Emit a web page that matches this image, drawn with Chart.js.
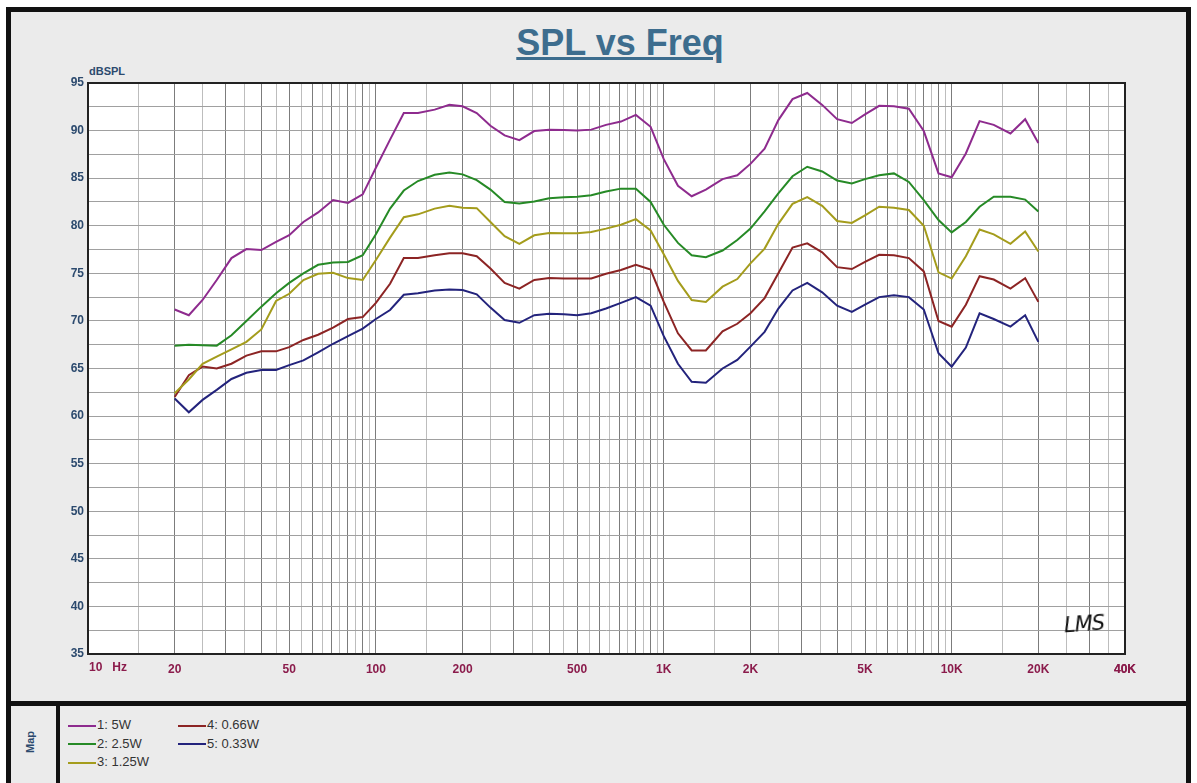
<!DOCTYPE html>
<html>
<head>
<meta charset="utf-8">
<title>SPL vs Freq</title>
<script src="https://cdn.jsdelivr.net/npm/chart.js@4.4.1/dist/chart.umd.min.js"></script>
<style>
  body { margin: 0; background: #fff; }
  #wrap { position: relative; width: 1197px; height: 783px; overflow: hidden; font-family: Arial, "Liberation Sans", sans-serif; }
  #frame { position: absolute; left: 6px; top: 7px; width: 1185px; height: 800px; box-sizing: border-box;
           border: 5px solid #111; background: #ebebeb; }
  #sep { position: absolute; left: 6px; top: 701px; width: 1185px; height: 5px; background: #111; }
  #mapline { position: absolute; left: 56px; top: 706px; width: 4px; height: 80px; background: #111; }
  #maplabel { position: absolute; left: 15px; top: 736px; width: 30px; text-align: center; transform: rotate(-90deg);
              font: bold 11px "Liberation Sans Narrow", Arial, sans-serif; color: #2c4a6e; }
  #title { position: absolute; left: 420px; top: 22px; width: 400px; text-align: center; line-height: 40px;
           font: bold 36px Arial, "Liberation Sans", sans-serif; color: #3d6d8e; text-decoration: underline; }
  #unit { position: absolute; left: 89px; top: 65px; font: bold 11px "Liberation Sans Narrow", Arial, sans-serif; color: #2c4a6e; }
  #sig { position: absolute; left: 1064px; top: 612px; z-index: 5; font: italic 21px "DejaVu Sans", sans-serif; color: #111; letter-spacing: -1px; transform: rotate(-4deg); }
  #legend { position: absolute; left: 68px; top: 716px; font: 13px Arial, "Liberation Sans", sans-serif; color: #333; }
  .item { position: absolute; white-space: nowrap; height: 18px; line-height: 18px; }
  .item span.sw { display: inline-block; width: 28px; height: 2px; vertical-align: middle; margin-right: 1px; }
  #box { position: absolute; left: 0; top: 0; width: 1197px; height: 783px; }
</style>
</head>
<body>
<div id="wrap">
  <div id="frame"></div>
  <div id="sep"></div>
  <div id="mapline"></div>
  <div id="maplabel">Map</div>
  <div id="title">SPL vs Freq</div>
  <div id="unit">dBSPL</div>
  <div id="legend"></div>
  <div id="box"><canvas id="spl"></canvas></div>
  <div id="sig">LMS</div>
</div>
<script>
// frecuencias (Hz), 1/6 octava
const freqs = [20, 22.4, 25, 28, 31.5, 35.5, 40, 45, 50, 56,
  63, 71, 80, 90, 100, 112, 125, 140, 160, 180,
  200, 224, 250, 280, 315, 355, 400, 450, 500, 560,
  630, 710, 800, 900, 1000, 1120, 1250, 1400, 1600, 1800,
  2000, 2240, 2500, 2800, 3150, 3550, 4000, 4500, 5000, 5600,
  6300, 7100, 8000, 9000, 10000, 11200, 12500, 14000, 16000, 18000,
  20000];

// dBSPL por potencia
const spl5W = [71.2, 70.6, 72.2, 74.3, 76.6, 77.55, 77.45, 78.3, 79.0, 80.4,
  81.4, 82.7, 82.4, 83.3, 86.1, 89.05, 91.85, 91.85, 92.2, 92.7,
  92.55, 91.85, 90.5, 89.5, 89.0, 89.95, 90.1, 90.05, 90.0, 90.1,
  90.6, 90.95, 91.65, 90.4, 87.0, 84.2, 83.1, 83.8, 84.9, 85.3,
  86.5, 88.1, 91.1, 93.3, 93.95, 92.7, 91.2, 90.8, 91.7, 92.6,
  92.55, 92.3, 89.95, 85.5, 85.1, 87.6, 91.0, 90.6, 89.7, 91.2,
  88.7];
const spl2p5W = [67.4, 67.5, 67.45, 67.4, 68.5, 70.0, 71.5, 72.9, 74.0, 75.0,
  75.9, 76.15, 76.2, 76.9, 79.1, 81.8, 83.7, 84.7, 85.35, 85.6,
  85.4, 84.8, 83.8, 82.5, 82.35, 82.55, 82.9, 83.0, 83.05, 83.2,
  83.6, 83.9, 83.9, 82.5, 80.1, 78.2, 76.9, 76.7, 77.4, 78.5,
  79.7, 81.5, 83.4, 85.2, 86.2, 85.7, 84.75, 84.45, 84.9, 85.3,
  85.5, 84.6, 82.7, 80.6, 79.3, 80.4, 82.0, 83.05, 83.05, 82.75,
  81.5];
const spl1p25W = [62.4, 63.85, 65.5, 66.25, 67.0, 67.8, 69.1, 72.1, 72.85, 74.3,
  74.95, 75.05, 74.5, 74.3, 76.4, 78.75, 80.9, 81.2, 81.8, 82.1,
  81.9, 81.85, 80.4, 78.9, 78.1, 79.0, 79.25, 79.2, 79.2, 79.35,
  79.7, 80.1, 80.7, 79.5, 77.0, 74.2, 72.2, 72.0, 73.6, 74.4,
  76.05, 77.6, 80.2, 82.3, 83.0, 82.1, 80.5, 80.3, 81.1, 82.0,
  81.9, 81.65, 80.0, 75.1, 74.45, 76.8, 79.6, 79.1, 78.1, 79.4,
  77.3];
const spl0p66W = [62.0, 64.3, 65.2, 65.0, 65.5, 66.35, 66.8, 66.8, 67.25, 68.0,
  68.55, 69.3, 70.2, 70.4, 71.9, 73.9, 76.6, 76.6, 76.9, 77.1,
  77.1, 76.8, 75.5, 74.0, 73.4, 74.3, 74.5, 74.45, 74.45, 74.45,
  74.95, 75.35, 75.9, 75.4, 72.0, 68.7, 66.9, 66.9, 68.9, 69.7,
  70.8, 72.4, 75.0, 77.7, 78.15, 77.2, 75.65, 75.45, 76.2, 76.95,
  76.9, 76.6, 75.2, 70.0, 69.4, 71.7, 74.7, 74.35, 73.4, 74.5,
  72.0];
const spl0p33W = [61.85, 60.4, 61.7, 62.75, 63.9, 64.55, 64.85, 64.85, 65.35, 65.85,
  66.7, 67.6, 68.4, 69.2, 70.2, 71.15, 72.75, 72.9, 73.2, 73.3,
  73.25, 72.8, 71.4, 70.1, 69.8, 70.6, 70.75, 70.7, 70.6, 70.8,
  71.3, 71.9, 72.5, 71.6, 68.4, 65.5, 63.6, 63.5, 65.0, 65.9,
  67.3, 68.85, 71.3, 73.2, 74.0, 73.0, 71.6, 70.95, 71.7, 72.5,
  72.7, 72.5, 71.2, 66.6, 65.2, 67.2, 70.8, 70.2, 69.4, 70.6,
  67.8];

const nombres = ['1: 5W', '2: 2.5W', '3: 1.25W', '4: 0.66W', '5: 0.33W'];
const colores = ['#8e2b8e', '#268a26', '#a49c1c', '#8c2424', '#23237c'];
const valores = [spl5W, spl2p5W, spl1p25W, spl0p66W, spl0p33W];

// etiquetas del eje X
const xEtiquetaValores = [10, 20, 50, 100, 200, 500, 1000, 2000, 5000, 10000, 20000, 40000];
const xEtiquetaTextos = ['10 Hz', '20', '50', '100', '200', '500', '1K', '2K', '5K', '10K', '20K', '40K'];

// lineas de rejilla: cada 0.5 de la decada
const rejillaX = [];
[10, 100, 1000, 10000].forEach(d => {
    for (let m = 1; m < 10; m += 0.5) {
        const v = m * d;
        if (v <= 40000) rejillaX.push(v);
    }
});
rejillaX.push(40000);

// leyenda
const leyenda = document.getElementById('legend');
const posiciones = [[0, 0], [0, 18.5], [0, 37], [110, 0], [110, 18.5]];
nombres.forEach((n, i) => {
    const d = document.createElement('div');
    d.className = 'item';
    d.style.left = posiciones[i][0] + 'px';
    d.style.top = posiciones[i][1] + 'px';
    d.innerHTML = '<span class="sw" style="background:' + colores[i] + '"></span>' + n;
    leyenda.appendChild(d);
});

const fuenteEje = { family: '"Liberation Sans Narrow", Arial, sans-serif', size: 12, weight: 'bold' };

const marco = {
    id: 'marco',
    beforeDraw(chart) {
        const a = chart.chartArea, c = chart.ctx;
        c.save();
        c.fillStyle = '#ffffff';
        c.fillRect(a.left, a.top, a.right - a.left, a.bottom - a.top);
        c.restore();
    },
    afterDraw(chart) {
        const a = chart.chartArea, c = chart.ctx;
        c.save();
        c.strokeStyle = '#222';
        c.lineWidth = 2;
        c.strokeRect(a.left, a.top, a.right - a.left, a.bottom - a.top);
        // primera etiqueta alineada a la izquierda
        const x = chart.scales.x.getPixelForValue(xEtiquetaValores[0]);
        c.fillStyle = '#8b1c4c';
        c.font = 'bold 12px "Liberation Sans Narrow", Arial, sans-serif';
        c.textBaseline = 'top';
        c.textAlign = 'left';
        c.fillText(xEtiquetaTextos[0].replace(' ', '   '), x + 1, a.bottom + 8);
        c.restore();
    }
};

new Chart(document.getElementById('spl'), {
    type: 'line',
    data: {
        datasets: valores.map((v, i) => ({
            label: nombres[i],
            data: freqs.map((f, j) => ({ x: f, y: v[j] })),
            borderColor: colores[i],
            backgroundColor: colores[i],
            borderWidth: 2,
            pointRadius: 0,
            tension: 0
        }))
    },
    options: {
        responsive: true,
        maintainAspectRatio: false,
        animation: false,
        layout: { padding: { left: 0, top: 83, right: 72, bottom: 0 } },
        plugins: { legend: { display: false }, title: { display: false }, tooltip: { enabled: false } },
        scales: {
            x: {
                type: 'logarithmic',
                min: 10,
                max: 40000,
                afterBuildTicks: s => { s.ticks = rejillaX.map(v => ({ value: v })); },
                afterFit: s => { s.height = 129; },
                border: { display: false },
                grid: {
                    drawTicks: false,
                    lineWidth: 1,
                    color: ctx => {
                        const v = ctx.tick ? ctx.tick.value : 0;
                        const m = v / Math.pow(10, Math.floor(Math.log10(v) + 1e-9));
                        return Math.abs(m - Math.round(m)) < 1e-6 ? '#7c7c7c' : '#bdbdbd';
                    }
                },
                ticks: {
                    autoSkip: false,
                    maxRotation: 0,
                    minRotation: 0,
                    padding: 8,
                    color: '#8b1c4c',
                    font: fuenteEje,
                    callback: v => {
                        const k = xEtiquetaValores.findIndex(e => Math.abs(e - v) < 1e-6);
                        return k > 0 ? xEtiquetaTextos[k] : '';
                    }
                }
            },
            y: {
                min: 35,
                max: 95,
                afterFit: s => { s.width = 88; },
                border: { display: false },
                grid: { drawTicks: false, color: '#a0a0a0', lineWidth: 1 },
                ticks: {
                    stepSize: 2.5,
                    padding: 4,
                    color: '#2c4a6e',
                    font: fuenteEje,
                    callback: v => (v % 5 === 0 ? String(v) : '')
                }
            }
        }
    },
    plugins: [marco]
});
</script>
</body>
</html>
